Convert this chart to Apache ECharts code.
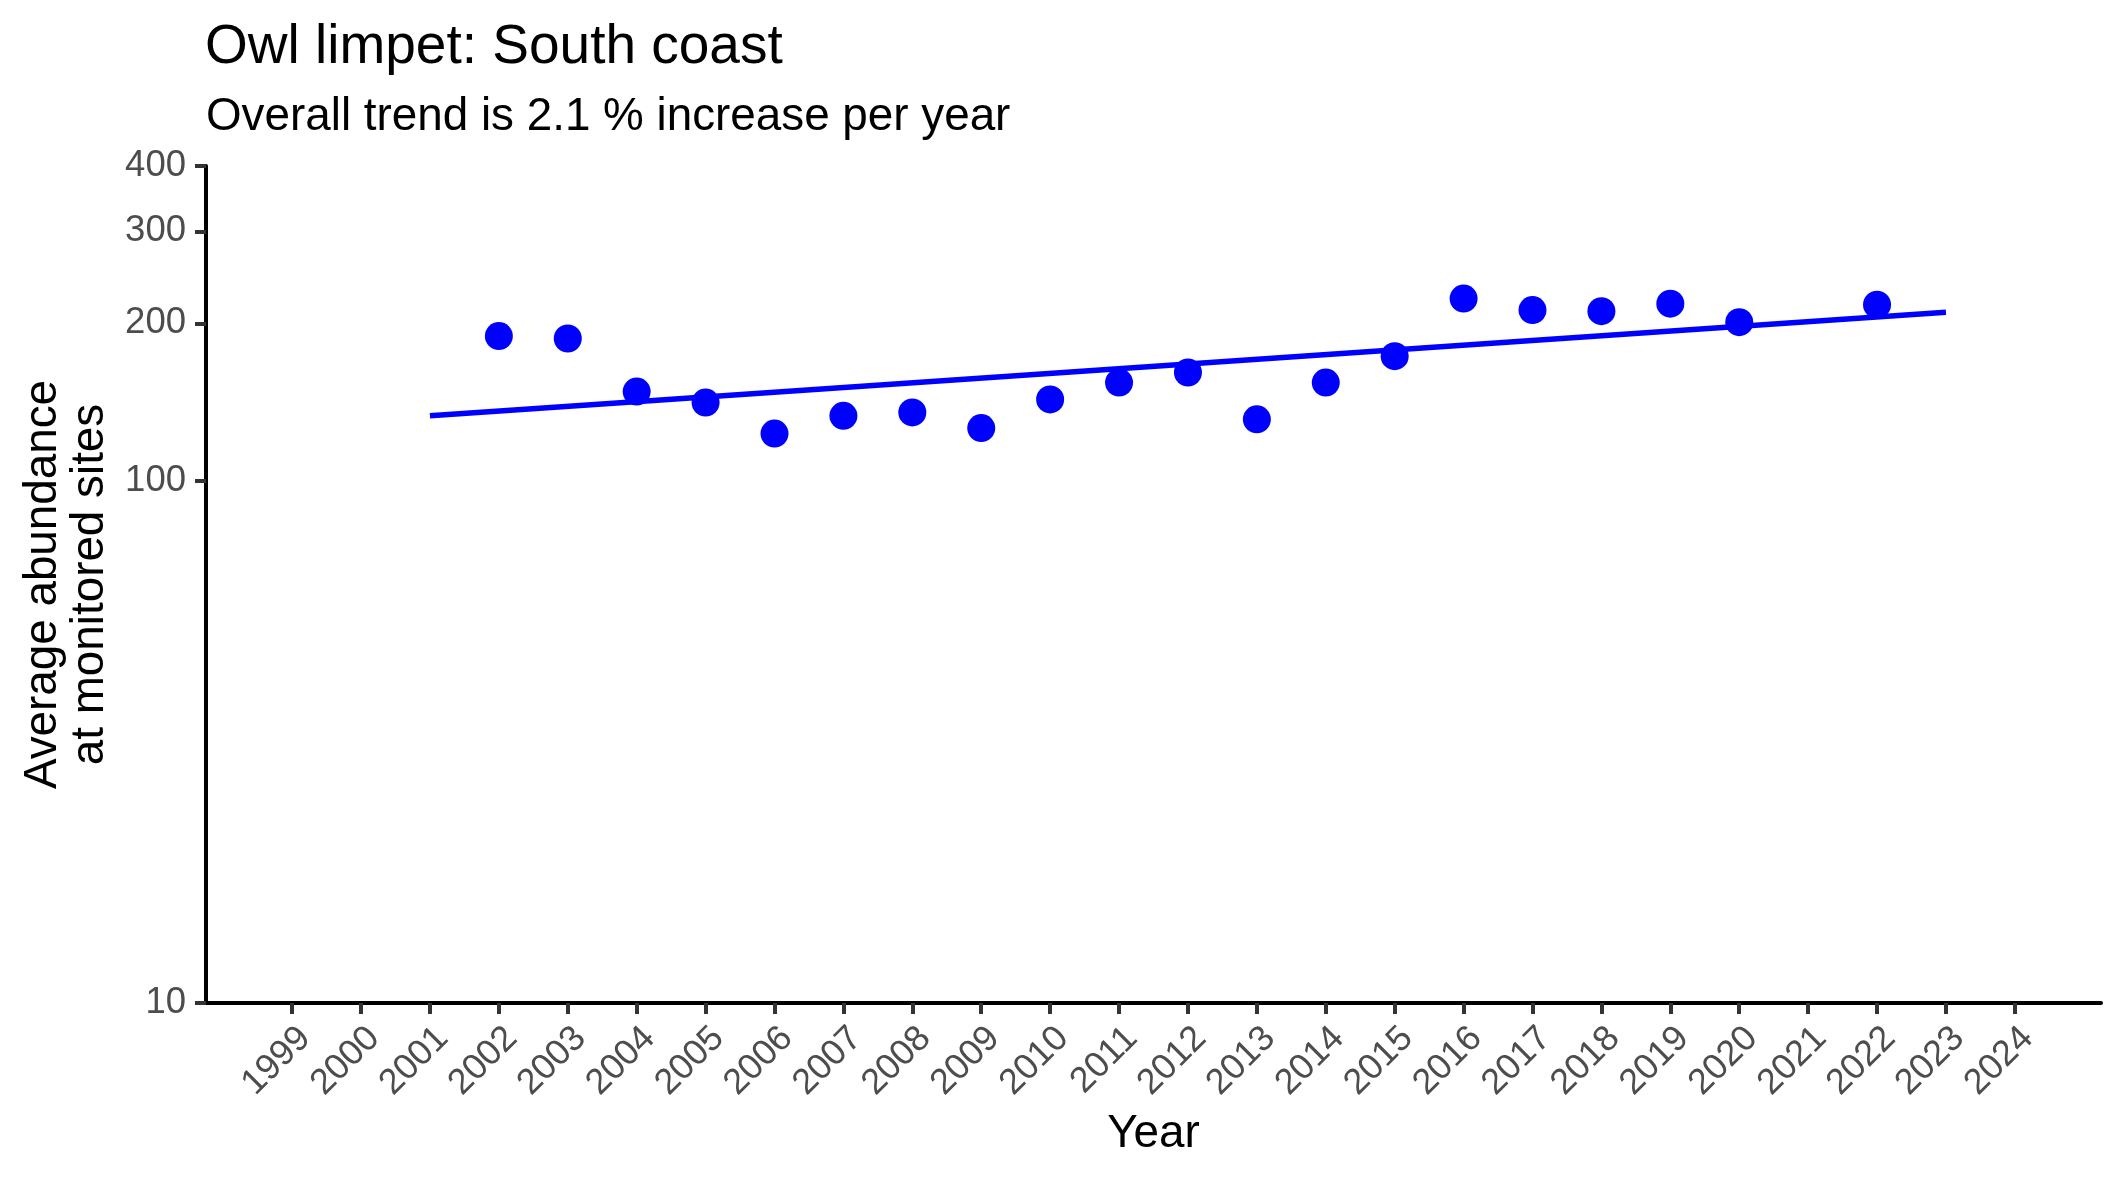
<!DOCTYPE html>
<html>
<head>
<meta charset="utf-8">
<script src="https://cdn.jsdelivr.net/npm/echarts@6.0.0/dist/echarts.min.js"></script>
<style>
  html, body { margin: 0; padding: 0; background: #ffffff; }
  #chart { width: 2125px; height: 1181px; }
</style>
</head>
<body>
<div id="chart"></div>
<script>
const FONT = "'Liberation Sans', Arial, sans-serif";

const COLORS = {
  point: "#0000ff",
  text: "#000000",
  tickText: "#4d4d4d",
  tick: "#333333",
  axis: "#000000",
};

// annual mean abundance
const years = [2002, 2003, 2004, 2005, 2006, 2007, 2008, 2009, 2010, 2011,
  2012, 2013, 2014, 2015, 2016, 2017, 2018, 2019, 2020, 2022];
const abundance = [189, 187, 148, 141, 123, 133, 135, 126, 143, 154,
  161, 131, 154, 173, 223, 212, 211, 218, 201, 217];

// fitted trend (log-linear, so it is straight on the log axis)
const trendYears = [2001, 2023];
const trendValues = [133, 210];

const yearTicks = [1999, 2000, 2001, 2002, 2003, 2004, 2005, 2006, 2007, 2008,
  2009, 2010, 2011, 2012, 2013, 2014, 2015, 2016, 2017, 2018,
  2019, 2020, 2021, 2022, 2023, 2024];
const abundanceTicks = [10, 100, 200, 300, 400];

const chart = echarts.init(document.getElementById("chart"));

chart.setOption({
  animation: false,
  backgroundColor: "#ffffff",
  textStyle: { fontFamily: FONT },
  title: [
    {
      text: "Owl limpet: South coast",
      left: 205,
      top: 20,
      padding: 0,
      textStyle: { fontFamily: FONT, fontSize: 55, fontWeight: "normal", color: COLORS.text },
    },
    {
      text: "Overall trend is 2.1 % increase per year",
      left: 206,
      top: 94,
      padding: 0,
      textStyle: { fontFamily: FONT, fontSize: 45.8, fontWeight: "normal", color: COLORS.text },
    },
  ],
  grid: { left: 206, right: 24, top: 166, bottom: 178, containLabel: false },
  xAxis: {
    type: "value",
    min: 1997.75,
    max: 2025.25,
    name: "Year",
    nameLocation: "middle",
    nameGap: 108,
    nameMoveOverlap: false,
    nameTextStyle: { fontFamily: FONT, fontSize: 45.8, color: COLORS.text },
    axisLine: { show: true, lineStyle: { color: COLORS.axis, width: 4 } },
    axisTick: { show: true, length: 11, customValues: yearTicks, lineStyle: { color: COLORS.tick, width: 4 } },
    axisLabel: {
      customValues: yearTicks,
      formatter: (v) => String(v),
      rotate: 45,
      align: "right",
      verticalAlign: "top",
      margin: 17,
      fontFamily: FONT,
      fontSize: 36,
      color: COLORS.tickText,
    },
    splitLine: { show: false },
  },
  yAxis: {
    type: "log",
    logBase: 10,
    min: 10,
    max: 400,
    name: "Average abundance\nat monitored sites",
    nameLocation: "middle",
    nameRotate: 90,
    nameGap: 92,
    nameTextStyle: { fontFamily: FONT, fontSize: 45.8, lineHeight: 47, color: COLORS.text, align: "center" },
    axisLine: { show: true, lineStyle: { color: COLORS.axis, width: 4 } },
    axisTick: { show: true, length: 11, customValues: abundanceTicks, lineStyle: { color: COLORS.tick, width: 4 } },
    axisLabel: {
      customValues: abundanceTicks,
      formatter: (v) => String(Math.round(v)),
      margin: 20,
      fontFamily: FONT,
      fontSize: 36.5,
      color: COLORS.tickText,
    },
    splitLine: { show: false },
  },
  series: [
    {
      name: "Trend",
      type: "line",
      data: trendYears.map((y, i) => [y, trendValues[i]]),
      showSymbol: false,
      symbol: "none",
      lineStyle: { color: COLORS.point, width: 5.5 },
      z: 2,
    },
    {
      name: "Abundance",
      type: "scatter",
      data: years.map((y, i) => [y, abundance[i]]),
      symbol: "circle",
      symbolSize: 28,
      itemStyle: { color: COLORS.point, opacity: 1 },
      z: 3,
    },
  ],
});
</script>
</body>
</html>
